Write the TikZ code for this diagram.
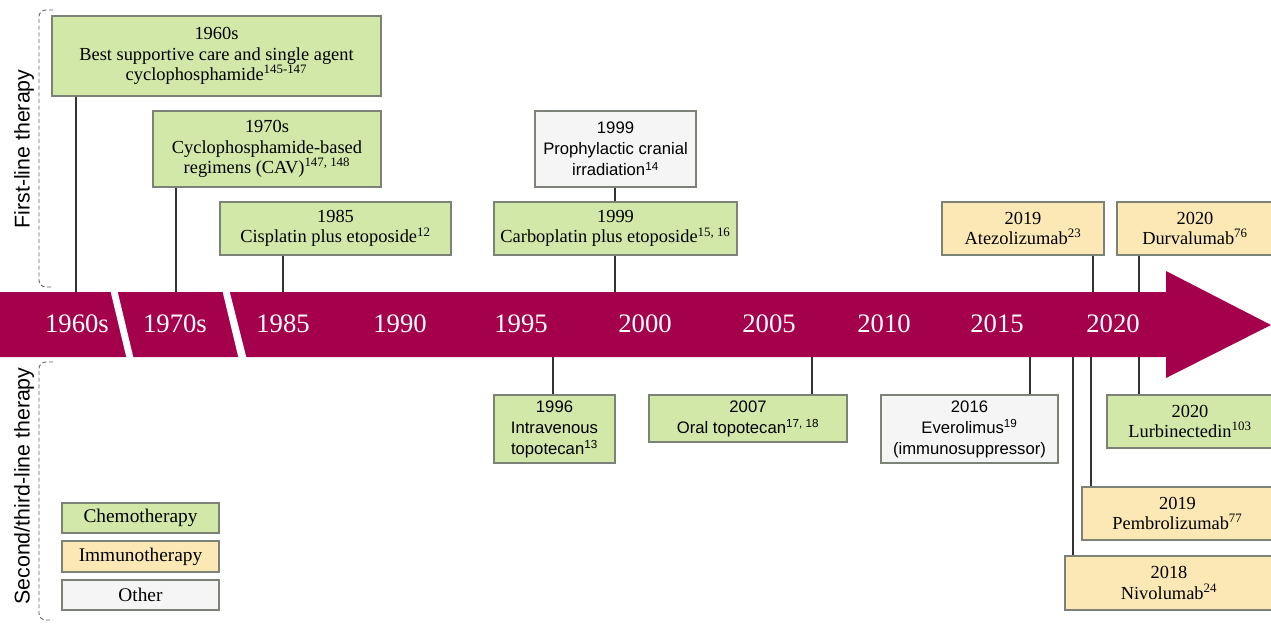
\documentclass[tikz,border=0pt]{standalone}
\usepackage{fontspec}
\setmainfont{Liberation Serif}
\setsansfont{Liberation Sans}
\definecolor{band}{RGB}{165,0,76}
\definecolor{chemo}{RGB}{210,232,168}
\definecolor{immuno}{RGB}{252,232,180}
\definecolor{other}{RGB}{245,245,245}
\definecolor{edge}{RGB}{125,130,120}
% name, style, x1, y1, x2, y2, text  (pixel coordinates)
\newcommand\tlbox[7]{%
  \pgfmathsetmacro\tlcx{(#3+#5)/2}\pgfmathsetmacro\tlcy{(#4+#6)/2}%
  \pgfmathsetmacro\tlww{0.75*(#5-#3)}\pgfmathsetmacro\tlhh{0.75*(#6-#4)}%
  \node[#2, minimum width=\tlww pt, minimum height=\tlhh pt] (#1) at (\tlcx,\tlcy) {#7};}
\begin{document}
\begin{tikzpicture}[x=0.75pt,y=-0.75pt,
  box/.style={draw=edge, line width=1.1pt, inner sep=0pt, align=center,
    font={\fontsize{13.8}{15.5}\selectfont\lineskiplimit=-10pt}},
  chem/.style={box, fill=chemo},
  imm/.style={box, fill=immuno},
  oth/.style={box, fill=other},
  sans/.style={font={\sffamily\fontsize{12.5}{15.8}\selectfont\lineskiplimit=-10pt}},
  leg/.style={font={\fontsize{14.5}{16}\selectfont}},
  lnk/.style={draw=black!80, line width=0.9pt},
  yr/.style={text=white, inner sep=0pt, font={\fontsize{20}{20}\selectfont}},
  side/.style={rotate=90, inner sep=0pt, font={\sffamily\fontsize{16}{16}\selectfont}},
  brk/.style={draw=black!60, line width=0.7pt, dash pattern=on 3pt off 2pt, rounded corners=5pt}]
\useasboundingbox (0,0) rectangle (1271,625);

% timeline band
\fill[band] (0,292) -- (1166,292) -- (1166,271) -- (1271,325) -- (1166,378) -- (1166,357) -- (0,357) -- cycle;
\fill[white] (110,289) -- (117,289) -- (134,360) -- (127,360) -- cycle;
\fill[white] (222,289) -- (229,289) -- (247,360) -- (239,360) -- cycle;

\node[yr] (y1) at (77,324) {1960s};
\node[yr] (y2) at (175,324) {1970s};
\node[yr] (y3) at (283,324) {1985};
\node[yr] (y4) at (400,324) {1990};
\node[yr] (y5) at (521,324) {1995};
\node[yr] (y6) at (645,324) {2000};
\node[yr] (y7) at (769,324) {2005};
\node[yr] (y8) at (884,324) {2010};
\node[yr] (y9) at (997,324) {2015};
\node[yr] (y10) at (1113,324) {2020};

% side labels
\draw[brk] (53,10) -- (39,10) -- (39,287) -- (53,287);
\draw[brk] (53,362) -- (39,362) -- (39,620) -- (53,620);
\node[side] (s1) at (24,149) {First-line therapy};
\node[side] (s2) at (24,486) {Second/third-line therapy};

% top boxes
\tlbox{a}{chem}{52}{16}{381}{96}{1960s\\Best supportive care and single agent\\cyclophosphamide\textsuperscript{145-147}}
\tlbox{b}{chem}{153}{111}{381}{187}{1970s\\Cyclophosphamide-based\\regimens (CAV)\textsuperscript{147, 148}}
\tlbox{c}{chem}{220}{202}{451}{255}{1985\\Cisplatin plus etoposide\textsuperscript{12}}
\tlbox{d}{oth, sans}{535}{111}{696}{187}{1999\\Prophylactic cranial\\irradiation\textsuperscript{14}}
\tlbox{e}{chem}{494}{202}{737}{255}{1999\\Carboplatin plus etoposide\textsuperscript{15, 16}}
\tlbox{f}{imm}{942}{202}{1104}{255}{2019\\Atezolizumab\textsuperscript{23}}
\tlbox{g}{imm}{1117}{202}{1273}{255}{2020\\Durvalumab\textsuperscript{76}}

% bottom boxes
\tlbox{h}{chem, sans}{494}{395}{615}{463}{1996\\Intravenous\\topotecan\textsuperscript{13}}
\tlbox{i}{chem, sans}{649}{395}{847}{442}{2007\\Oral topotecan\textsuperscript{17, 18}}
\tlbox{j}{oth, sans}{881}{395}{1058}{463}{2016\\Everolimus\textsuperscript{19}\\(immunosuppressor)}
\tlbox{k}{chem}{1107}{395}{1273}{448}{2020\\Lurbinectedin\textsuperscript{103}}
\tlbox{l}{imm}{1082}{487}{1273}{540}{2019\\Pembrolizumab\textsuperscript{77}}
\tlbox{m}{imm}{1065}{556}{1273}{610}{2018\\Nivolumab\textsuperscript{24}}

% legend
\tlbox{lc}{chem, leg}{62}{503}{219}{533}{Chemotherapy}
\tlbox{li}{imm, leg}{62}{541}{219}{572}{Immunotherapy}
\tlbox{lo}{oth, leg}{62}{580}{219}{610}{Other}

% band anchor coordinates
\coordinate (ta) at (76,292);
\coordinate (tb) at (176,292);
\coordinate (tc) at (283,292);
\coordinate (te) at (615,292);
\coordinate (tf) at (1093,292);
\coordinate (tg) at (1139,292);
\coordinate (bh) at (553,357);
\coordinate (bi) at (812,357);
\coordinate (bj) at (1030,357);
\coordinate (bk) at (1139,357);
\coordinate (bl) at (1091,357);
\coordinate (bm) at (1073,357);

% connectors
\draw[lnk] (a.south -| ta) -- (ta);
\draw[lnk] (b.south -| tb) -- (tb);
\draw[lnk] (c.south -| tc) -- (tc);
\draw[lnk] (d.south -| te) -- (e.north -| te);
\draw[lnk] (e.south -| te) -- (te);
\draw[lnk] (f.south -| tf) -- (tf);
\draw[lnk] (g.south -| tg) -- (tg);
\draw[lnk] (bh) -- (h.north -| bh);
\draw[lnk] (bi) -- (i.north -| bi);
\draw[lnk] (bj) -- (j.north -| bj);
\draw[lnk] (bk) -- (k.north -| bk);
\draw[lnk] (bl) -- (l.north -| bl);
\draw[lnk] (bm) -- (m.north -| bm);
\end{tikzpicture}
\end{document}
